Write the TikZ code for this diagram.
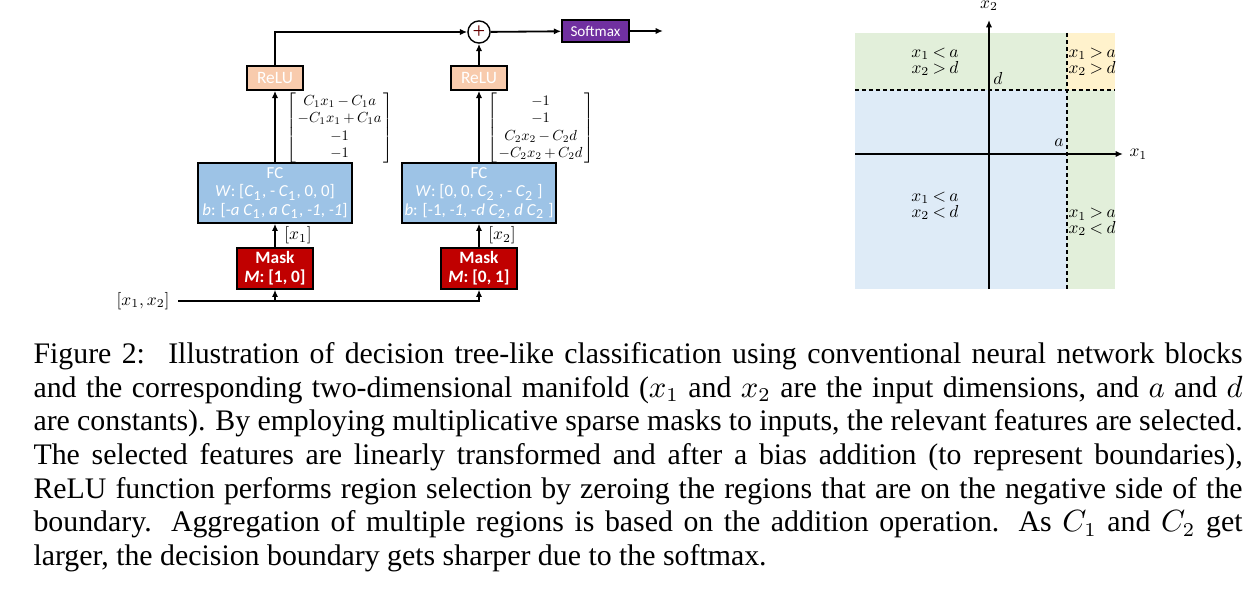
\documentclass[tikz,border=0pt]{standalone}
\usepackage{fontspec}
\usepackage{graphicx}
\setmainfont{Liberation Serif}
\newfontfamily\boxfont{Carlito}
\usetikzlibrary{positioning,arrows.meta}

\definecolor{fcblue}{HTML}{9DC3E6}
\definecolor{maskred}{HTML}{C00000}
\definecolor{relupeach}{HTML}{F8CBAD}
\definecolor{softpurple}{HTML}{7030A0}
\definecolor{regiongreen}{HTML}{E2EFDA}
\definecolor{regionblue}{HTML}{DEEBF7}
\definecolor{regionorange}{HTML}{FFF2CC}

\newcommand{\subC}[1]{\textit{C}\textsubscript{#1}}
\newcommand{\mth}[2][0.62]{\scalebox{#1}{$\medmuskip=3mu\relax\thickmuskip=3.5mu\relax#2$}}

\tikzset{
	block/.style={draw, line width=0.5pt, text=white, align=center, inner sep=0pt},
	relu/.style={block, fill=relupeach, minimum width=20pt, minimum height=8.6pt, font=\boxfont\fontsize{6.2}{7}\selectfont},
	fc/.style={block, fill=fcblue, minimum width=55pt, minimum height=21.4pt, font=\boxfont\fontsize{6}{6.5}\selectfont},
	mask/.style={block, fill=maskred, minimum width=27pt, minimum height=14.6pt, font=\boxfont\bfseries\fontsize{6.2}{6.9}\selectfont},
	softmax/.style={block, fill=softpurple, minimum width=24pt, minimum height=7.9pt, font=\boxfont\fontsize{5.4}{6}\selectfont},
	link/.style={-{Latex[length=2.6pt,width=2.2pt]}, line width=0.65pt},
	vec/.style={inner sep=0pt},
	region/.style={font=\fontsize{10}{5.7}\selectfont, inner sep=0pt},
	boundary/.style={dash pattern=on 1.5pt off 1pt, line width=0.6pt},
}

\begin{document}
\begin{tikzpicture}[x=0.357pt, y=-0.357pt]
	\useasboundingbox (0,0) rectangle (1254,592);

	\node[vec, anchor=east] (input) at (170,301) {\mth{[x_1, x_2]}};
	\node[mask] (mask1) at (275,268.5) {Mask\\\textit{M}: [1, 0]};
	\node[mask] (mask2) at (479,268.5) {Mask\\\textit{M}: [0, 1]};
	\node[fc] (fc1) at (275,193) {FC\\\textit{W}: [\subC{1}, - \subC{1}, 0, 0]\\\textit{b}: [-\textit{a} \subC{1}, \textit{a} \subC{1}, \textit{-1}, \textit{-1}]};
	\node[fc] (fc2) at (479,193) {FC\\\textit{W}: [0, 0, \subC{2} , - \subC{2} ]\\\textit{b}: [-1, \textit{-1}, -\textit{d} \subC{2}, \textit{d} \subC{2} ]};
	\node[relu] (relu1) at (275,78) {ReLU};
	\node[relu] (relu2) at (479,78) {ReLU};
	\node[draw, circle, line width=0.5pt, minimum size=7.9pt, inner sep=0pt, font=\fontsize{8}{8}\selectfont, text=red!40!black] (plus) at (479,32) {+};
	\node[softmax] (soft) at (595.5,31) {Softmax};
	\coordinate (out) at (663,31);

	\draw[link, shorten <=3pt] (input.east) -| (mask2.south);
	\draw[link] (input.east -| mask1.south) -- (mask1.south);
	\draw[link] (mask1) -- (fc1) node[vec, midway, right=3pt] (x1lab) {\mth{[x_1]}};
	\draw[link] (mask2) -- (fc2) node[vec, midway, right=3pt] (x2lab) {\mth{[x_2]}};
	\draw[link] (fc1) -- (relu1);
	\draw[link] (fc2) -- (relu2);
	\draw[link] (relu1.north) |- (plus.west);
	\draw[link] (relu2) -- (plus);
	\draw[link] (plus) -- (soft);
	\draw[link] (soft) -- (out);

	\node[vec, anchor=west] (vec1) at (286,128) {\mth[0.52]{\arraycolsep=1pt\left[\begin{array}{c} C_1x_1 - C_1a\\ -C_1x_1 + C_1a\\ -1\\ -1 \end{array}\right]}};
	\node[vec, anchor=west] (vec2) at (487,128) {\mth[0.52]{\arraycolsep=1pt\left[\begin{array}{c} -1\\ -1\\ C_2x_2 - C_2d\\ -C_2x_2 + C_2d \end{array}\right]}};

	\fill[regiongreen] (855,33) rectangle (1067,90);
	\fill[regionorange] (1067,33) rectangle (1115,90);
	\fill[regionblue] (855,90) rectangle (1067,289);
	\fill[regiongreen] (1067,90) rectangle (1115,289);
	\draw[boundary] (855,90) -- (1115,90);
	\draw[boundary] (1067,33) -- (1067,289);
	\draw[link] (989,289) -- (989,20) node[vec, above=3pt] (x2axis) {\mth{x_2}};
	\draw[link] (855,154) -- (1123,154) node[vec, right=2pt] (x1axis) {\mth{x_1}};
	\node[region] (dlab) at (998,78) {\mth{d}};
	\node[region] (alab) at (1059,143) {\mth{a}};
	\node[region, align=center] (ul) at (935,62) {\mth{x_1 < a}\\\mth{x_2 > d}};
	\node[region, align=center] (ll) at (935,206) {\mth{x_1 < a}\\\mth{x_2 < d}};
	\node[region, align=left, anchor=west] (ur) at (1068,62) {\mth{x_1 > a}\\\mth{x_2 > d}};
	\node[region, align=left, anchor=west] (lr) at (1068,222) {\mth{x_1 > a}\\\mth{x_2 < d}};

	\node[anchor=north west, inner sep=0pt, text width=1209*0.357pt, align=justify, font=\fontsize{10.65}{12}\selectfont] (caption) at (33,342)
		{\hyphenpenalty=10000 Figure 2:\hspace{0.25em} Illustration of decision tree-like classification using conventional neural network blocks\linebreak
		and the corresponding two-dimensional manifold ($x_1$ and $x_2$ are the input dimensions, and $a$ and $d$\linebreak
		are constants). By employing multiplicative sparse masks to inputs, the relevant features are selected.\linebreak
		The selected features are linearly transformed and after a bias addition (to represent boundaries),\linebreak
		ReLU function performs region selection by zeroing the regions that are on the negative side of the\linebreak
		boundary. Aggregation of multiple regions is based on the addition operation. As $C_1$ and $C_2$ get\linebreak
		larger, the decision boundary gets sharper due to the softmax.};
\end{tikzpicture}
\end{document}
